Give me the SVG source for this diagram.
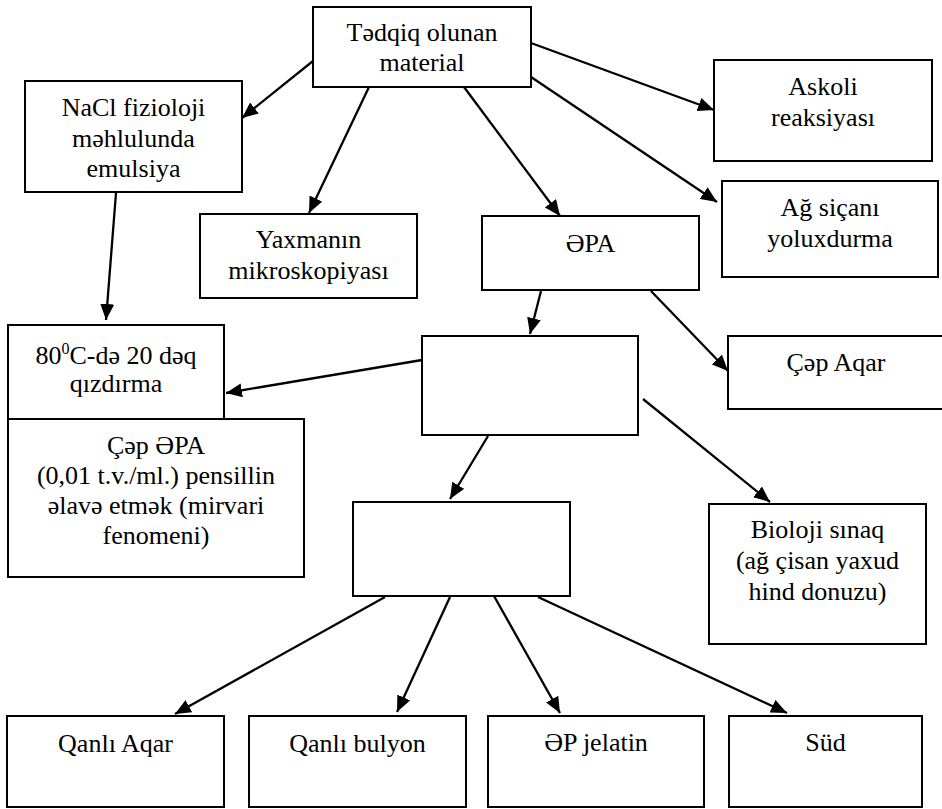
<svg xmlns="http://www.w3.org/2000/svg" width="942" height="809" viewBox="0 0 942 809">
<style>
.box{fill:#fff;stroke:#000;stroke-width:2}
.t{font-size:26px;fill:#000;text-anchor:middle}
.c{stroke:#000;stroke-width:2.3;fill:none;marker-end:url(#ah)}
</style>
<defs>
<marker id="ah" markerUnits="userSpaceOnUse" markerWidth="16" markerHeight="14" refX="16" refY="7" orient="auto">
<path d="M0,0 L16,7 L0,14 z" fill="#000"/>
</marker>
</defs>
<rect width="942" height="809" fill="#fff"/>
<g id="connectors">
<line class="c" x1="313" y1="61" x2="242" y2="118"/>
<line class="c" x1="369" y1="87" x2="309" y2="213"/>
<line class="c" x1="464" y1="87" x2="560" y2="216"/>
<line class="c" x1="531" y1="43" x2="714" y2="110"/>
<line class="c" x1="531" y1="77" x2="717" y2="202"/>
<line class="c" x1="541" y1="291" x2="530" y2="334"/>
<line class="c" x1="651" y1="291" x2="728" y2="371"/>
<line class="c" x1="116" y1="193" x2="106" y2="320"/>
<line class="c" x1="422" y1="360" x2="226" y2="393"/>
<line class="c" x1="488" y1="436" x2="450" y2="499"/>
<line class="c" x1="643" y1="399" x2="770" y2="502"/>
<line class="c" x1="385" y1="597" x2="175" y2="714"/>
<line class="c" x1="450" y1="597" x2="397" y2="712"/>
<line class="c" x1="494" y1="596" x2="560" y2="713"/>
<line class="c" x1="538" y1="597" x2="787" y2="713"/>
</g>
<g id="n-top" font-family="Liberation Serif"><rect class="box" x="313" y="7" width="218" height="80"/><text class="t" x="422" y="41">Tədqiq olunan</text><text class="t" x="422" y="71">material</text></g>
<g id="n-nacl" font-family="Times New Roman"><rect class="box" x="25" y="81" width="217" height="111"/><text class="t" x="133.5" y="116">NaCl fizioloji</text><text class="t" x="133.5" y="147">məhlulunda</text><text class="t" x="133.5" y="177">emulsiya</text></g>
<g id="n-askoli" font-family="Tinos"><rect class="box" x="714" y="60" width="218" height="101"/><text class="t" x="823" y="95">Askoli</text><text class="t" x="823" y="126">reaksiyası</text></g>
<g id="n-sican" font-family="serif"><rect class="box" x="722" y="181" width="216" height="96"/><text class="t" x="830" y="216">Ağ siçanı</text><text class="t" x="830" y="247">yoluxdurma</text></g>
<g id="n-yaxma" font-family="Liberation Serif"><rect class="box" x="200" y="214" width="217" height="84"/><text class="t" x="308.5" y="248">Yaxmanın</text><text class="t" x="308.5" y="279">mikroskopiyası</text></g>
<g id="n-epa" font-family="Times New Roman"><rect class="box" x="482" y="216" width="217" height="74"/><text class="t" x="590.5" y="252">ƏPA</text></g>
<g id="n-cepaqar" font-family="Tinos"><rect class="box" x="728" y="336" width="220" height="73"/><text class="t" x="836" y="371">Çəp Aqar</text></g>
<g id="n-mid1"><rect class="box" x="422" y="336" width="216" height="99"/></g>
<g id="n-80" font-family="serif"><rect class="box" x="8" y="325" width="216" height="94"/><text class="t" x="116" y="364">80<tspan font-size="16" dy="-10">0</tspan><tspan dy="10">C-də 20 dəq</tspan></text><text class="t" x="116" y="392">qızdırma</text></g>
<g id="n-cepepa" font-family="Liberation Serif"><rect class="box" x="8" y="419" width="296" height="158"/><text class="t" x="156" y="454">Çəp ƏPA</text><text class="t" x="156" y="484">(0,01 t.v./ml.) pensillin</text><text class="t" x="156" y="514">əlavə etmək (mirvari</text><text class="t" x="156" y="544">fenomeni)</text></g>
<g id="n-mid2"><rect class="box" x="353" y="502" width="217" height="94"/></g>
<g id="n-bioloji" font-family="Times New Roman"><rect class="box" x="709" y="504" width="217" height="140"/><text class="t" x="817.5" y="538">Bioloji sınaq</text><text class="t" x="817.5" y="569">(ağ çisan yaxud</text><text class="t" x="817.5" y="600">hind donuzu)</text></g>
<g id="n-qanliaqar" font-family="Liberation Serif"><rect class="box" x="7" y="716" width="217" height="91"/><text class="t" x="115.5" y="752">Qanlı Aqar</text></g>
<g id="n-bulyon" font-family="Tinos"><rect class="box" x="249" y="716" width="217" height="91"/><text class="t" x="357.5" y="752">Qanlı bulyon</text></g>
<g id="n-jelatin" font-family="Times New Roman"><rect class="box" x="488" y="716" width="216" height="91"/><text class="t" x="596" y="751">ƏP jelatin</text></g>
<g id="n-sud" font-family="serif"><rect class="box" x="729" y="716" width="193" height="91"/><text class="t" x="825.5" y="751">Süd</text></g>
</svg>
